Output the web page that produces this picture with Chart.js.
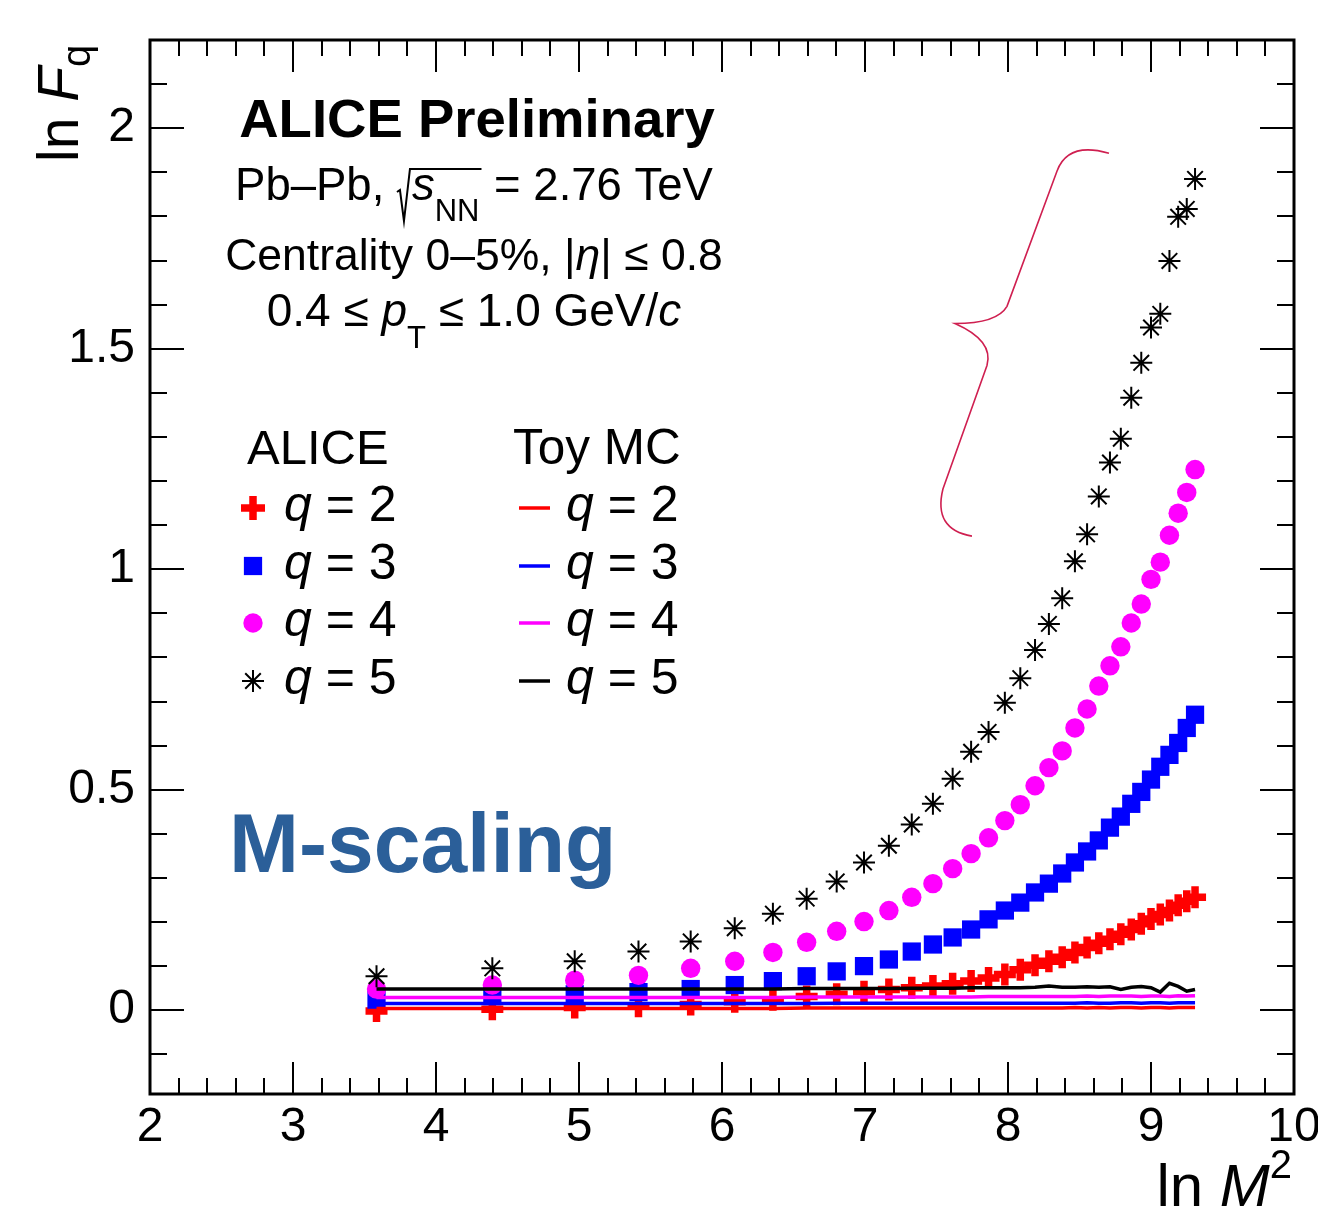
<!DOCTYPE html>
<html><head><meta charset="utf-8">
<script src="https://cdn.jsdelivr.net/npm/chart.js@4.4.1/dist/chart.umd.min.js"></script>
<style>html,body{margin:0;padding:0;background:#fff;}#wrap{width:1318px;height:1216px;}</style>
</head><body><div id="wrap"><canvas id="c" width="1318" height="1216"></canvas></div>
<script>
// ln M^2 for M = 6, 9, 12, ..., 105
const lnM2 = [3.584,4.394,4.970,5.416,5.781,6.089,6.356,6.592,6.802,6.993,7.167,7.327,7.475,7.613,7.742,7.864,7.978,8.086,8.189,8.286,8.379,8.468,8.553,8.635,8.713,8.789,8.862,8.932,9.000,9.065,9.129,9.190,9.250,9.308];

// ALICE data, ln F_q
const aliceQ2 = [-0.002,0.002,0.006,0.009,0.013,0.019,0.024,0.031,0.036,0.042,0.047,0.051,0.055,0.060,0.066,0.073,0.081,0.092,0.102,0.111,0.120,0.131,0.142,0.152,0.161,0.172,0.183,0.196,0.207,0.217,0.226,0.238,0.247,0.256];
const aliceQ3 = [0.024,0.032,0.036,0.041,0.048,0.057,0.066,0.077,0.088,0.100,0.115,0.133,0.149,0.165,0.183,0.206,0.226,0.244,0.267,0.287,0.310,0.335,0.360,0.385,0.414,0.439,0.468,0.495,0.523,0.552,0.579,0.606,0.640,0.670];
const aliceQ4 = [0.048,0.057,0.068,0.079,0.095,0.111,0.131,0.154,0.179,0.201,0.226,0.256,0.287,0.321,0.355,0.391,0.430,0.466,0.509,0.550,0.588,0.640,0.683,0.735,0.781,0.824,0.878,0.921,0.977,1.016,1.077,1.127,1.174,1.226];
const aliceQ5 = [0.077,0.095,0.111,0.133,0.156,0.186,0.219,0.253,0.292,0.335,0.373,0.421,0.468,0.525,0.586,0.631,0.697,0.753,0.817,0.876,0.934,1.018,1.079,1.165,1.242,1.296,1.389,1.468,1.548,1.579,1.699,1.799,1.817,1.885];

// Toy MC, ln F_q
const toyQ2 = [0.004,0.004,0.004,0.004,0.004,0.004,0.004,0.005,0.005,0.005,0.005,0.005,0.005,0.005,0.005,0.005,0.005,0.005,0.005,0.005,0.005,0.006,0.005,0.006,0.005,0.006,0.006,0.005,0.006,0.006,0.005,0.006,0.006,0.006];
const toyQ3 = [0.015,0.015,0.015,0.015,0.015,0.015,0.015,0.015,0.016,0.016,0.016,0.016,0.016,0.016,0.016,0.016,0.016,0.016,0.016,0.016,0.016,0.016,0.017,0.016,0.016,0.017,0.017,0.016,0.017,0.017,0.016,0.017,0.017,0.017];
const toyQ4 = [0.029,0.029,0.029,0.029,0.029,0.029,0.029,0.030,0.030,0.030,0.030,0.030,0.030,0.030,0.030,0.031,0.031,0.031,0.031,0.031,0.031,0.031,0.032,0.031,0.032,0.032,0.032,0.031,0.032,0.032,0.031,0.033,0.032,0.033];
const toyQ5 = [0.048,0.048,0.048,0.048,0.048,0.048,0.048,0.049,0.049,0.049,0.049,0.050,0.050,0.050,0.051,0.051,0.051,0.051,0.052,0.055,0.052,0.052,0.053,0.052,0.053,0.047,0.052,0.054,0.051,0.041,0.061,0.054,0.043,0.047];

const xTickValues = [2,3,4,5,6,7,8,9,10];
const yTickValues = [0,0.5,1,1.5,2];
const seriesLabels = ['q = 2','q = 3','q = 4','q = 5'];

const RED = '#ff0000', BLUE = '#0000ff', MAG = '#ff00ff', BLK = '#000000';
const FAM = '"Liberation Sans", Arial, Helvetica, sans-serif';

function pts(ys){ return lnM2.map((x,i)=>({x:x, y:ys[i]})); }

function fontStr(s, base){ return (s.b?'bold ':'') + (s.i?'italic ':'') + (s.s||base) + 'px ' + FAM; }
function measure(ctx, segs, base){
  let w = 0;
  for (const s of segs){
    if (s.sqrt){ w += 15 + measure(ctx, s.sqrt, base) + 2; }
    else { ctx.font = fontStr(s, base); w += ctx.measureText(s.t).width; }
  }
  return w;
}
function drawSegs(ctx, segs, x, y, base, color){
  for (const s of segs){
    if (s.sqrt){
      const iw = measure(ctx, s.sqrt, base);
      ctx.save();
      ctx.strokeStyle = color; ctx.lineWidth = 2; ctx.lineJoin = 'miter';
      ctx.beginPath();
      ctx.moveTo(x, y-8); ctx.lineTo(x+3, y-10); ctx.lineTo(x+7, y+21); ctx.lineTo(x+13, y-31); ctx.lineTo(x+17+iw, y-31);
      ctx.stroke();
      ctx.restore();
      x = drawSegs(ctx, s.sqrt, x+15, y, base, color) + 2;
    } else {
      ctx.font = fontStr(s, base);
      ctx.fillStyle = s.c || color;
      ctx.fillText(s.t, x, y + (s.dy||0));
      x += ctx.measureText(s.t).width;
    }
  }
  return x;
}
function drawRich(ctx, segs, x, y, base, align, color){
  ctx.save();
  ctx.textBaseline = 'alphabetic'; ctx.textAlign = 'left';
  const w = measure(ctx, segs, base);
  let x0 = x;
  if (align === 'center') x0 = x - w/2; else if (align === 'right') x0 = x - w;
  drawSegs(ctx, segs, x0, y, base, color || '#000');
  ctx.restore();
}

function drawMarker(ctx, ds, x, y){
  ctx.save();
  ctx.fillStyle = ds.backgroundColor; ctx.strokeStyle = ds.borderColor;
  const r = ds.pointRadius, bw = ds.pointBorderWidth;
  ctx.lineWidth = bw;
  ctx.beginPath();
  if (ds.pointStyle === 'cross'){
    ctx.moveTo(x-r, y); ctx.lineTo(x+r, y); ctx.moveTo(x, y-r); ctx.lineTo(x, y+r); ctx.stroke();
  } else if (ds.pointStyle === 'rect'){
    const h = r*Math.SQRT1_2; ctx.fillRect(x-h, y-h, 2*h, 2*h);
  } else if (ds.pointStyle === 'circle'){
    ctx.arc(x, y, r, 0, Math.PI*2); ctx.fill();
  } else if (ds.pointStyle === 'star'){
    const d = r*Math.SQRT1_2;
    ctx.moveTo(x-r, y); ctx.lineTo(x+r, y); ctx.moveTo(x, y-r); ctx.lineTo(x, y+r);
    ctx.moveTo(x-d, y-d); ctx.lineTo(x+d, y+d); ctx.moveTo(x-d, y+d); ctx.lineTo(x+d, y-d);
    ctx.stroke();
  }
  ctx.restore();
}

const decor = {
  id: 'rootDecor',
  afterDraw(chart){
    const ctx = chart.ctx;
    const {left, right, top, bottom} = chart.chartArea;
    const xs = chart.scales.x, ys = chart.scales.y;
    ctx.save();
    // ticks (inside, all four sides)
    ctx.strokeStyle = '#000'; ctx.lineWidth = 2;
    ctx.beginPath();
    for (let i = 0; i <= 40; i++){
      const v = xs.min + i*0.2;
      const px = Math.round(xs.getPixelForValue(v));
      const len = (i % 5 === 0) ? 32 : 16;
      ctx.moveTo(px, bottom); ctx.lineTo(px, bottom - len);
      ctx.moveTo(px, top); ctx.lineTo(px, top + len);
    }
    for (let k = -1; k <= 22; k++){
      const v = k*0.1;
      if (v < ys.min || v > ys.max) continue;
      const py = Math.round(ys.getPixelForValue(v));
      const len = (k % 5 === 0) ? 34 : 17;
      ctx.moveTo(left, py); ctx.lineTo(left + len, py);
      ctx.moveTo(right, py); ctx.lineTo(right - len, py);
    }
    ctx.stroke();
    // frame
    ctx.lineWidth = 3;
    ctx.strokeRect(left, top, right-left, bottom-top);

    // brace annotation (data coordinates)
    const P = (x, y) => [xs.getPixelForValue(x), ys.getPixelForValue(y)];
    ctx.strokeStyle = '#cf1f50'; ctx.lineWidth = 1.6;
    ctx.beginPath();
    let a = P(8.706, 1.943); ctx.moveTo(a[0], a[1]);
    let c = P(8.420, 1.970), b = P(8.343, 1.903); ctx.quadraticCurveTo(c[0], c[1], b[0], b[1]);
    b = P(7.993, 1.596); ctx.lineTo(b[0], b[1]);
    c = P(7.923, 1.557); b = P(7.629, 1.557); ctx.quadraticCurveTo(c[0], c[1], b[0], b[1]);
    c = P(7.902, 1.518); b = P(7.853, 1.462); ctx.quadraticCurveTo(c[0], c[1], b[0], b[1]);
    b = P(7.545, 1.182); ctx.lineTo(b[0], b[1]);
    c = P(7.475, 1.090); b = P(7.748, 1.075); ctx.quadraticCurveTo(c[0], c[1], b[0], b[1]);
    ctx.stroke();

    // texts
    drawRich(ctx, [{t:'ALICE Preliminary', b:true}], 477, 137, 54.5, 'center');
    drawRich(ctx, [{t:'Pb–Pb, '}, {sqrt:[{t:'s', i:true}, {t:'NN', s:31, dy:21}]}, {t:' = 2.76 TeV'}], 474, 200, 45.5, 'center');
    drawRich(ctx, [{t:'Centrality 0–5%, |'}, {t:'η', i:true}, {t:'| ≤ 0.8'}], 474, 270, 44.5, 'center');
    drawRich(ctx, [{t:'0.4 ≤ '}, {t:'p', i:true}, {t:'T', s:31, dy:22}, {t:' ≤ 1.0 GeV/'}, {t:'c', i:true}], 474, 326, 46, 'center');

    drawRich(ctx, [{t:'M-scaling', b:true}], 229, 872, 84, 'left', '#2b5f99');

    // legend
    drawRich(ctx, [{t:'ALICE'}], 247, 464, 49, 'left');
    drawRich(ctx, [{t:'Toy MC'}], 513, 464, 49.5, 'left');
    const ds = chart.data.datasets;
    const rowY = [508, 566, 623, 681];
    for (let r = 0; r < 4; r++){
      const m = ds[r], l = ds[r+4];
      drawMarker(ctx, Object.assign({}, m, m.pointStyle==='cross'?{pointRadius:12}:{}), 253, rowY[r]);
      const parts = seriesLabels[r].split(' ');
      drawRich(ctx, [{t:'q', i:true}, {t:' = ' + parts[2]}], 284, rowY[r] + 13, 50, 'left');
      ctx.save(); ctx.strokeStyle = l.borderColor; ctx.lineWidth = 3.5;
      ctx.beginPath(); ctx.moveTo(519, rowY[r]); ctx.lineTo(550, rowY[r]); ctx.stroke(); ctx.restore();
      drawRich(ctx, [{t:'q', i:true}, {t:' = ' + parts[2]}], 566, rowY[r] + 13, 50, 'left');
    }

    // axis titles
    drawRich(ctx, [{t:'ln '}, {t:'M', i:true}, {t:'2', s:40, dy:-28}], 1292, 1206, 60, 'right');
    ctx.save();
    ctx.translate(78, 162); ctx.rotate(-Math.PI/2);
    drawRich(ctx, [{t:'ln '}, {t:'F', i:true}, {t:'q', s:40, dy:12}], 0, 0, 57, 'left');
    ctx.restore();
    ctx.restore();
  }
};

const datasets = [
  {label:'ALICE q = 2', data:pts(aliceQ2), pointStyle:'cross', pointRadius:11, pointBorderWidth:7.5, borderColor:RED, backgroundColor:RED, order:8},
  {label:'ALICE q = 3', data:pts(aliceQ3), pointStyle:'rect', pointRadius:12.9, pointBorderWidth:0, borderColor:BLUE, backgroundColor:BLUE, order:7},
  {label:'ALICE q = 4', data:pts(aliceQ4), pointStyle:'circle', pointRadius:9.7, pointBorderWidth:0, borderColor:MAG, backgroundColor:MAG, order:6},
  {label:'ALICE q = 5', data:pts(aliceQ5), pointStyle:'star', pointRadius:11, pointBorderWidth:2, borderColor:BLK, backgroundColor:BLK, order:5},
  {label:'Toy MC q = 2', data:pts(toyQ2), showLine:true, pointRadius:0, borderWidth:3.5, borderColor:RED, backgroundColor:RED, order:4},
  {label:'Toy MC q = 3', data:pts(toyQ3), showLine:true, pointRadius:0, borderWidth:3.5, borderColor:BLUE, backgroundColor:BLUE, order:3},
  {label:'Toy MC q = 4', data:pts(toyQ4), showLine:true, pointRadius:0, borderWidth:3.5, borderColor:MAG, backgroundColor:MAG, order:2},
  {label:'Toy MC q = 5', data:pts(toyQ5), showLine:true, pointRadius:0, borderWidth:3.5, borderColor:BLK, backgroundColor:BLK, order:1}
];
datasets.forEach(d => { d.pointHoverRadius = d.pointRadius; d.tension = 0; });

new Chart(document.getElementById('c'), {
  type: 'scatter',
  data: { datasets },
  options: {
    responsive: false, devicePixelRatio: 1, animation: false, events: [],
    layout: { padding: { left: 0, right: 24, top: 40, bottom: 0 } },
    plugins: { legend: { display: false }, tooltip: { enabled: false } },
    scales: {
      x: {
        type: 'linear', min: 2, max: 10,
        grid: { display: false, drawTicks: false }, border: { display: false },
        afterBuildTicks: s => { s.ticks = xTickValues.map(v => ({value: v})); },
        afterFit: s => { s.height = 122; s.paddingLeft = 0; s.paddingRight = 0; },
        ticks: { padding: 5, color: '#000', font: { family: FAM, size: 48 }, maxRotation: 0, autoSkip: false, callback: v => String(v) }
      },
      y: {
        type: 'linear', min: -0.19, max: 2.2,
        grid: { display: false, drawTicks: false }, border: { display: false },
        afterBuildTicks: s => { s.ticks = yTickValues.map(v => ({value: v})); },
        afterFit: s => { s.width = 150; s.paddingTop = 0; s.paddingBottom = 0; },
        ticks: { padding: 15, color: '#000', font: { family: FAM, size: 48 }, autoSkip: false, callback: v => String(v) }
      }
    }
  },
  plugins: [decor]
});
</script></body></html>
